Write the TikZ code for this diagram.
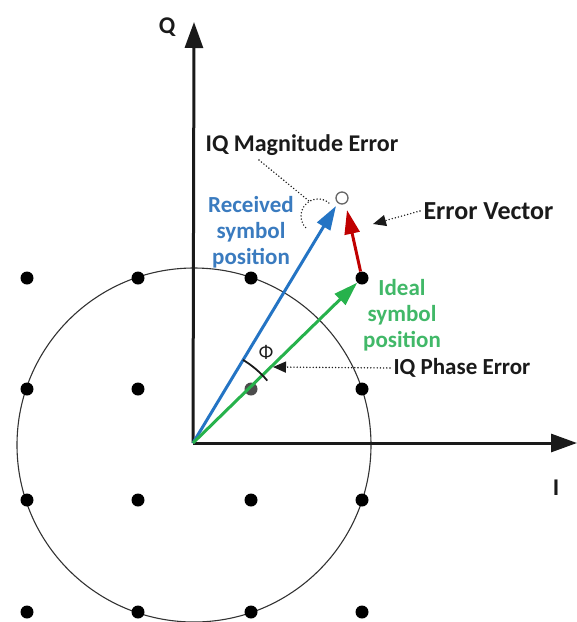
\documentclass[tikz,border=0pt]{standalone}
\usepackage{fontspec}
\setmainfont{Carlito}
\usetikzlibrary{arrows.meta}
\definecolor{rxblue}{HTML}{2474C4}
\definecolor{rxbluetext}{HTML}{3A7BBF}
\definecolor{idgreen}{HTML}{27B24C}
\definecolor{idgreentext}{HTML}{41B868}
\definecolor{errred}{HTML}{C00000}
\definecolor{ink}{HTML}{1A1A1A}
\begin{document}
\begin{tikzpicture}[x=1pt,y=1pt,yscale=-1,
  axisline/.style={line width=3pt, draw=ink, -{Triangle[length=26pt,width=18pt]}},
  qdot/.style={circle, fill=black, inner sep=0pt, minimum size=13pt},
  vec/.style={line width=3pt, -{Triangle[length=24pt,width=15pt]}},
  lbl/.style={font=\bfseries\fontsize{23}{26}\selectfont, text=ink},
  dotline/.style={line width=1.6pt, line cap=round, dash pattern=on 0pt off 3.2pt, draw=ink},
  pointer/.style={dotline, -{Triangle[length=13pt,width=11pt]}}]
\useasboundingbox (0,0) rectangle (577,622);
\coordinate (O) at (193,443);
\coordinate (C) at (194,445);
\coordinate (Qtip) at (194,22);
\coordinate (Itip) at (577,443);
% circle
\draw[line width=1.1pt, draw=black!80] (C) circle[radius=177];
% axes
\draw[axisline] (O) -- (Qtip);
\draw[axisline] (O) -- (Itip);
\node[lbl, font=\bfseries\fontsize{24}{26}\selectfont] (Qlbl) at (167,27) {Q};
\node[lbl, font=\bfseries\fontsize{24}{26}\selectfont] (Ilbl) at (556,488) {I};
% constellation dots
\foreach \x/\y/\n in {27/278/a1,138/278/a2,251/278/a3,
                      27/389/b1,138/389/b2,362/389/b4,
                      27/500/c1,138/500/c2,251/500/c3,362/500/c4,
                      27/612/d1,138/612/d2,251/612/d3,362/612/d4}
  \node[qdot] (\n) at (\x,\y) {};
\node[qdot, fill=black!70] (b3) at (251,389) {};
\node[qdot] (ideal) at (362,278) {};
% received symbol
\node[circle, draw=black!60, fill=white, line width=1.3pt, minimum size=12pt, inner sep=0pt] (rx) at (342,198) {};
\coordinate (rxtip) at (336,206);
\coordinate (errtip) at (347,210);
% vectors
\draw[vec, rxblue] (O) -- (rxtip);
\draw[vec, idgreen] (O) -- (ideal);
\draw[vec, errred] (ideal) -- (errtip);
% phase angle
\draw[line width=1.8pt, draw=ink] (O) ++(-59:97) arc[start angle=-59, end angle=-40, radius=97];
\node[font=\fontsize{19}{20}\selectfont, text=ink] (phi) at (266,352) {Φ};
% magnitude error
\node[lbl, font=\bfseries\fontsize{24}{26}\selectfont] (mag) at (302,145) {IQ Magnitude Error};
\coordinate (magarc) at (309,201);
\draw[dotline] (259,160) -- (magarc);
\draw[dotline] (318,216) ++(-50:17) arc[start angle=-50, end angle=-230, radius=17];
% error vector
\node[lbl, font=\bfseries\fontsize{26}{28}\selectfont, anchor=west] (ev) at (420,211) {Error Vector};
\coordinate (evtip) at (373,224);
\draw[pointer] (ev.west) -- (evtip);
% phase error
\node[lbl, anchor=west] (pe) at (390,368) {IQ Phase Error};
\coordinate (petip) at (273,367);
\draw[pointer] (pe.west) -- (petip);
% colored labels
\node[font=\bfseries\fontsize{23}{26}\selectfont, text=rxbluetext, align=center] (rxlbl) at (251,232) {Received\\symbol\\position};
\node[font=\bfseries\fontsize{23}{26}\selectfont, text=idgreentext, align=center] (idlbl) at (402,315) {Ideal\\symbol\\position};
\end{tikzpicture}
\end{document}
